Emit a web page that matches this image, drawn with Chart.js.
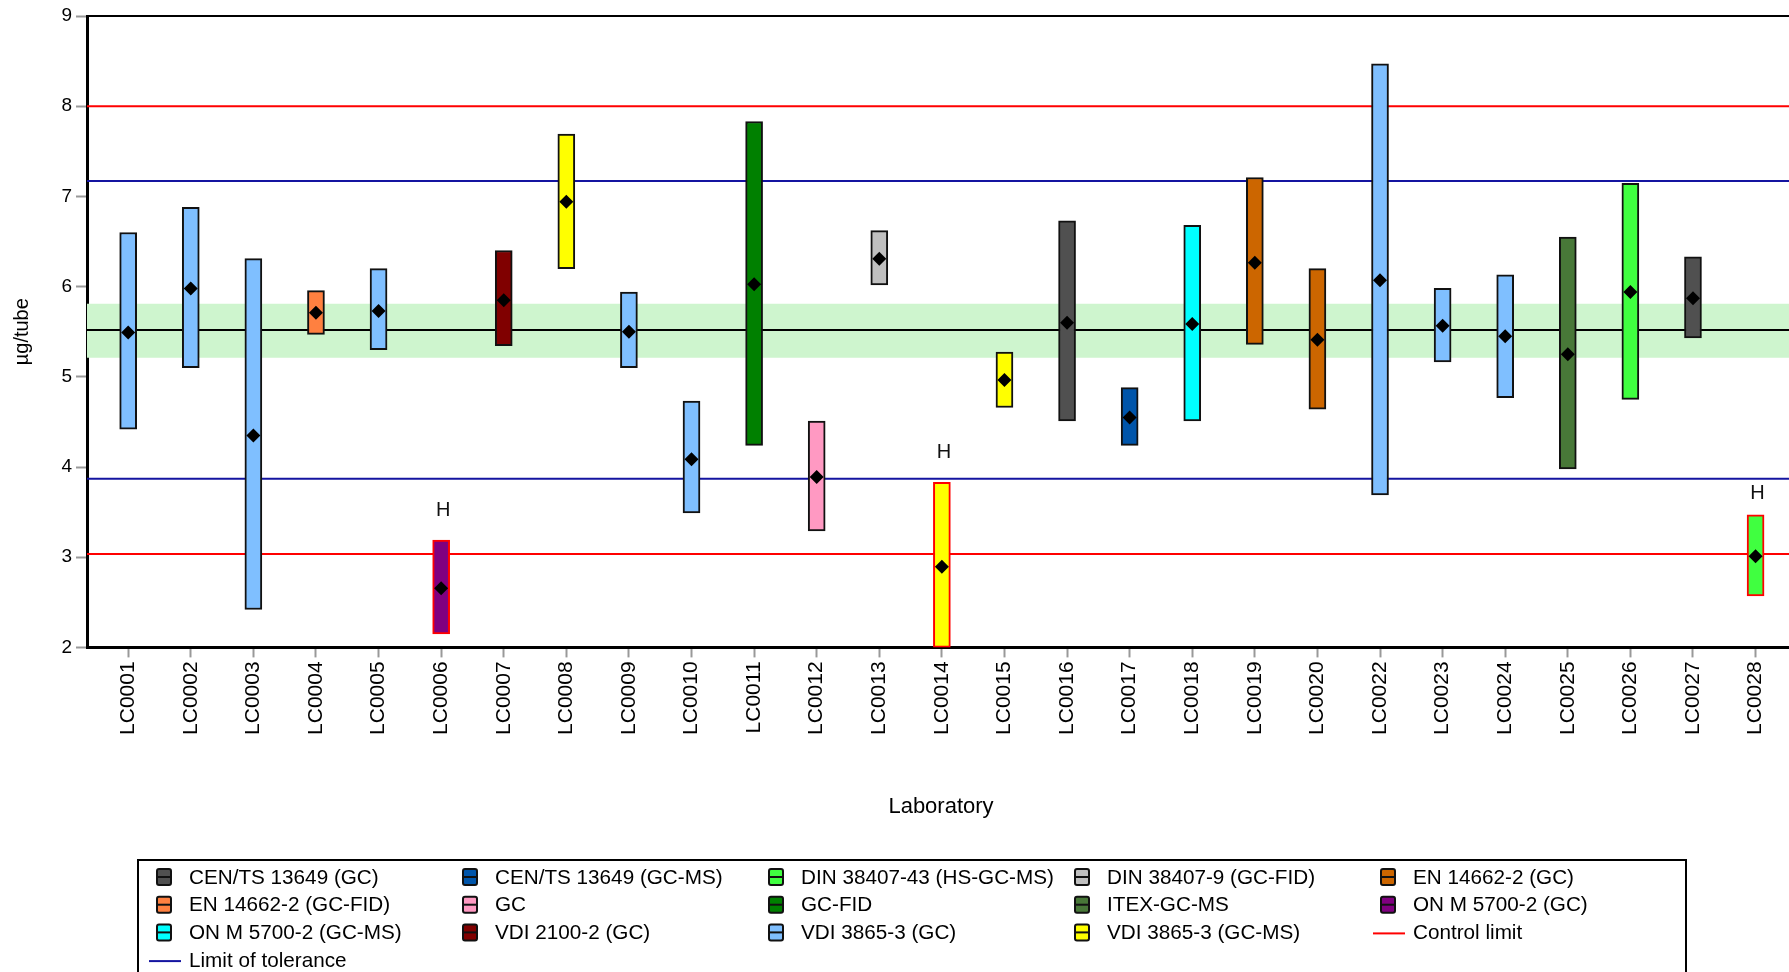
<!DOCTYPE html>
<html>
<head>
<meta charset="utf-8">
<title>Laboratory results</title>
<script src="https://cdn.jsdelivr.net/npm/chart.js@4.4.1/dist/chart.umd.min.js"></script>
<style>
  html, body { margin: 0; padding: 0; background: #fff; overflow: hidden; }
  canvas { display: block; }
</style>
</head>
<body>
<canvas id="chart" width="1795" height="972"></canvas>
<script>
// Participating laboratories (LC0021 did not report)
const labs = [
  'LC0001', 'LC0002', 'LC0003', 'LC0004', 'LC0005', 'LC0006', 'LC0007', 'LC0008', 'LC0009',
  'LC0010', 'LC0011', 'LC0012', 'LC0013', 'LC0014', 'LC0015', 'LC0016', 'LC0017', 'LC0018',
  'LC0019', 'LC0020', 'LC0022', 'LC0023', 'LC0024', 'LC0025', 'LC0026', 'LC0027', 'LC0028'
];

// Analytical method used by each laboratory
const labMethods = [
  'VDI 3865-3 (GC)', 'VDI 3865-3 (GC)', 'VDI 3865-3 (GC)', 'EN 14662-2 (GC-FID)', 'VDI 3865-3 (GC)',
  'ON M 5700-2 (GC)', 'VDI 2100-2 (GC)', 'VDI 3865-3 (GC-MS)', 'VDI 3865-3 (GC)',
  'VDI 3865-3 (GC)', 'GC-FID', 'GC', 'DIN 38407-9 (GC-FID)', 'VDI 3865-3 (GC-MS)',
  'VDI 3865-3 (GC-MS)', 'CEN/TS 13649 (GC)', 'CEN/TS 13649 (GC-MS)', 'ON M 5700-2 (GC-MS)',
  'EN 14662-2 (GC)', 'EN 14662-2 (GC)', 'VDI 3865-3 (GC)', 'VDI 3865-3 (GC)', 'VDI 3865-3 (GC)',
  'ITEX-GC-MS', 'DIN 38407-43 (HS-GC-MS)', 'CEN/TS 13649 (GC)', 'DIN 38407-43 (HS-GC-MS)'
];

// Reported result (µg/tube) and lower / upper end of its uncertainty range
const labMean = [
  5.49, 5.98, 4.35, 5.71, 5.73, 2.655, 5.85, 6.94, 5.50,
  4.085, 6.025, 3.89, 6.31, 2.895, 4.965, 5.60, 4.55, 5.585,
  6.265, 5.41, 6.07, 5.565, 5.45, 5.25, 5.94, 5.87, 3.01
];
const lowerBound = [
  4.42, 5.10, 2.42, 5.47, 5.30, 2.15, 5.345, 6.20, 5.10,
  3.49, 4.24, 3.29, 6.02, 2.00, 4.66, 4.51, 4.24, 4.51,
  5.36, 4.64, 3.69, 5.165, 4.77, 3.98, 4.75, 5.43, 2.57
];
const upperBound = [
  6.60, 6.88, 6.31, 5.955, 6.20, 3.19, 6.40, 7.69, 5.94,
  4.73, 7.83, 4.51, 6.62, 3.83, 5.275, 6.73, 4.88, 6.68,
  7.21, 6.20, 8.47, 5.98, 6.13, 6.55, 7.145, 6.33, 3.47
];

// Laboratories flagged "H"
const flaggedLabs = ['LC0006', 'LC0014', 'LC0028'];

// Methods in legend order and their fill colours
const methods = [
  'CEN/TS 13649 (GC)', 'CEN/TS 13649 (GC-MS)', 'DIN 38407-43 (HS-GC-MS)', 'DIN 38407-9 (GC-FID)', 'EN 14662-2 (GC)',
  'EN 14662-2 (GC-FID)', 'GC', 'GC-FID', 'ITEX-GC-MS', 'ON M 5700-2 (GC)',
  'ON M 5700-2 (GC-MS)', 'VDI 2100-2 (GC)', 'VDI 3865-3 (GC)', 'VDI 3865-3 (GC-MS)'
];
const methodColors = [
  '#505050', '#0055AA', '#40FF40', '#C0C0C0', '#CC6600',
  '#FF8040', '#FF99C2', '#008000', '#487838', '#800080',
  '#00FFFF', '#800000', '#7FBFFF', '#FFFF00'
];

// Assigned value, its uncertainty band, tolerance and control limits (µg/tube)
const assignedValue = 5.52;
const assignedBand = [5.21, 5.81];
const toleranceLimits = [3.87, 7.17];
const controlLimits = [3.035, 8.0];

// Value axis ticks
const yTickValues = [2, 3, 4, 5, 6, 7, 8, 9];

const CONTROL_COLOR = '#FF0000';
const TOLERANCE_COLOR = '#1414A0';
const X_MIN = -0.658;
const X_MAX = 26.63;
const FONT = "'Liberation Sans', Arial, Helvetica, sans-serif";

Chart.defaults.font.family = FONT;
Chart.defaults.color = '#000';

function horizontal(value) {
  return [{ x: X_MIN, y: value }, { x: X_MAX, y: value }];
}

const refLine = (value, color) => ({
  type: 'line',
  data: horizontal(value),
  borderColor: color,
  borderWidth: 2,
  pointRadius: 0,
  fill: false,
  order: 5
});

// Draws the "H" flags above the flagged bars and the legend box below the axis
const annotations = {
  id: 'annotations',
  afterDatasetsDraw(chart) {
    const { ctx, scales } = chart;
    const limitPixels = [...toleranceLimits, ...controlLimits].map(v => scales.y.getPixelForValue(v));
    ctx.save();
    ctx.fillStyle = '#111';
    ctx.font = '20px ' + FONT;
    ctx.textAlign = 'center';
    ctx.textBaseline = 'middle';
    labs.forEach((lab, i) => {
      if (!flaggedLabs.includes(lab)) return;
      const x = scales.x.getPixelForValue(i);
      let y = scales.y.getPixelForValue(upperBound[i]) - 30;
      // keep the flag clear of a limit line by moving it just below the line
      limitPixels.forEach(ly => { if (Math.abs(y - ly) < 12) y = ly + 15; });
      ctx.fillText('H', x + 2, y);
    });
    ctx.restore();
  },
  afterDraw(chart) {
    const { ctx } = chart;
    const box = { left: 138, top: 860, right: 1686 };
    const col0 = 156, colStep = 306, row0 = 877, rowStep = 27.7;
    const entries = methods.map((m, i) => ({ label: m, color: methodColors[i], kind: 'box' }))
      .concat([
        { label: 'Control limit', color: CONTROL_COLOR, kind: 'line' },
        { label: 'Limit of tolerance', color: TOLERANCE_COLOR, kind: 'line' }
      ]);
    ctx.save();
    ctx.strokeStyle = '#000';
    ctx.lineWidth = 2;
    ctx.strokeRect(box.left, box.top, box.right - box.left, chart.height + 20 - box.top);
    ctx.font = '20.7px ' + FONT;
    ctx.textBaseline = 'middle';
    ctx.textAlign = 'left';
    entries.forEach((e, k) => {
      const x = col0 + (k % 5) * colStep;
      const y = row0 + Math.floor(k / 5) * rowStep;
      if (e.kind === 'box') {
        ctx.fillStyle = e.color;
        ctx.strokeStyle = '#111';
        ctx.lineWidth = 2;
        ctx.beginPath();
        if (ctx.roundRect) ctx.roundRect(x + 1, y - 8, 14, 16, 2); else ctx.rect(x + 1, y - 8, 14, 16);
        ctx.fill();
        ctx.stroke();
        ctx.beginPath();
        ctx.moveTo(x + 1, y);
        ctx.lineTo(x + 15, y);
        ctx.stroke();
      } else {
        ctx.strokeStyle = e.color;
        ctx.lineWidth = 2;
        ctx.beginPath();
        ctx.moveTo(x - 7, y + 1);
        ctx.lineTo(x + 25, y + 1);
        ctx.stroke();
      }
      ctx.fillStyle = '#000';
      ctx.fillText(e.label, x + 33, y + 1);
    });
    ctx.restore();
  }
};

new Chart(document.getElementById('chart'), {
  type: 'bar',
  data: {
    datasets: [
      {
        type: 'line',
        data: horizontal(assignedBand[1]),
        borderWidth: 0,
        pointRadius: 0,
        backgroundColor: '#CEF5CE',
        fill: { value: assignedBand[0] },
        order: 10
      },
      refLine(assignedValue, '#000'),
      refLine(toleranceLimits[0], TOLERANCE_COLOR),
      refLine(toleranceLimits[1], TOLERANCE_COLOR),
      refLine(controlLimits[0], CONTROL_COLOR),
      refLine(controlLimits[1], CONTROL_COLOR),
      {
        type: 'bar',
        data: labs.map((lab, i) => ({ x: i, y: [lowerBound[i], upperBound[i]] })),
        backgroundColor: labs.map((lab, i) => methodColors[methods.indexOf(labMethods[i])]),
        borderColor: labs.map(lab => flaggedLabs.includes(lab) ? '#FF0000' : '#111'),
        borderWidth: 2,
        borderSkipped: false,
        barThickness: 17,
        grouped: false,
        order: 2
      },
      {
        type: 'scatter',
        data: labs.map((lab, i) => ({ x: i, y: labMean[i] })),
        pointStyle: 'rectRot',
        pointRadius: 7,
        backgroundColor: '#000',
        borderColor: '#000',
        borderWidth: 0,
        order: 1
      }
    ]
  },
  options: {
    responsive: false,
    devicePixelRatio: 1,
    animation: false,
    events: [],
    layout: { autoPadding: false, padding: { left: 0, right: 0, top: 16, bottom: 152 } },
    plugins: {
      legend: { display: false },
      tooltip: { enabled: false }
    },
    scales: {
      x: {
        type: 'linear',
        position: 'bottom',
        offset: false,
        min: X_MIN,
        max: X_MAX,
        afterBuildTicks: s => { s.ticks = labs.map((lab, i) => ({ value: i })); },
        afterFit: s => { s.height = 172.6; s.paddingLeft = 0; s.paddingRight = 0; },
        ticks: {
          autoSkip: false,
          minRotation: 90,
          maxRotation: 90,
          padding: 4,
          color: '#000',
          font: { size: 21 },
          callback: v => labs[v]
        },
        grid: { offset: false, drawOnChartArea: false, drawTicks: true, tickLength: 10, tickColor: '#999', tickWidth: 2 },
        border: { display: true, color: '#000', width: 3 },
        title: { display: true, text: 'Laboratory', color: '#000', font: { size: 22 }, padding: { top: 0, bottom: 0 } }
      },
      xTop: {
        type: 'linear',
        position: 'top',
        offset: false,
        min: X_MIN,
        max: X_MAX,
        afterFit: s => { s.height = 0; s.paddingLeft = 0; s.paddingRight = 0; },
        ticks: { display: false },
        grid: { offset: false, display: false, drawTicks: false },
        border: { display: true, color: '#000', width: 2 }
      },
      y: {
        type: 'linear',
        min: 2,
        max: 9,
        afterBuildTicks: s => { s.ticks = yTickValues.map(v => ({ value: v })); },
        afterFit: s => { s.width = 87; },
        ticks: { color: '#000', font: { size: 19 }, padding: 4 },
        grid: { drawOnChartArea: false, drawTicks: true, tickLength: 11, tickColor: '#999', tickWidth: 2 },
        border: { display: true, color: '#000', width: 3 },
        title: { display: true, text: 'µg/tube', color: '#000', font: { size: 20 }, padding: { top: 10, bottom: 0 } }
      }
    }
  },
  plugins: [annotations]
});
</script>
</body>
</html>
